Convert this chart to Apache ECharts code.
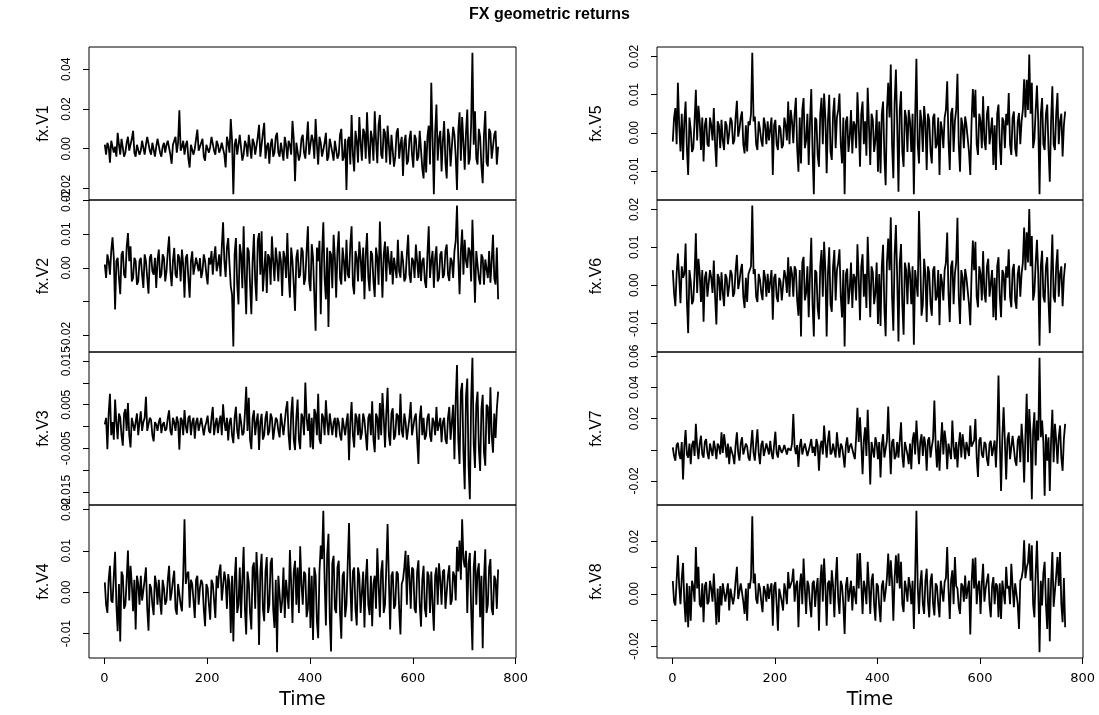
<!DOCTYPE html>
<html><head><meta charset="utf-8">
<script src="https://cdn.jsdelivr.net/npm/echarts@6/dist/echarts.min.js"></script>
<style>html,body{margin:0;padding:0;background:#fff}#c{width:1099px;height:715px}</style>
</head><body><div id="c"></div>
<script>
const chartTitle = 'FX geometric returns';
const xName = 'Time';
const TIME_START = 1;
const TIME_STEP = 2.5;
const N_OBS = 770;

const fxV1 = [2,-3,3,1,-7,4,5,-2,1,-4,8,2,-3,5,4,-4,-2,3,6,-1,0,5,9,-2,-4,2,3,-3,-1,4,5,-3,2,6,7,-1,-3,3,4,-4,1,5,6,-2,-4,1,3,-2,2,4,5,-3,-7.6,2,4,6,-2,3,19.4,-1,1,4,-3,2,4,-5,-9.5,2,3,-3,0,5,9.6,-1,-2,3,5,-4,-6,2,3,-2,1,6,5,-1,-3,4,2,-2,0,3,4,-3,-9.4,6,3,-2,15,4,-23,2,5,-3,-4,7,6,-6,-3,4,2,-4,7,1,-5,5,3,-3,-2,6,12,-4,-3,8,13,-5,1,3,-7.6,2,5,-4,-2,6,8,-2,-4,3,3,-6,6,2,-5,4,2,-3,14,5,-16.4,3,4,-6,-3,5,7,-2,-5,4,13.7,-3,-2,7,4,-5,15,2,-8,6,3,-4,-5,3,8,-6,-4,5,6,-2,-6,4,3,-5,-3,7,10,-6,-4,5,-20.8,4,6,-8,17,-3,-11.5,9,4,-7,16,3,-6,10,8,-5,18.4,2,-7.6,9,5,-6,18.9,4,-7.3,12,17,-3,-5,10,8,-7,11.6,2,-8,7,6,-9,-4,8,10.3,-5,2,6,-13.7,3,7,-8,-6,5,9,-3,-9.5,7,5,-6,-4,9,8,-10,-15,4,-12,6,11.6,-8,33.2,5,-23,8,22.3,-6,5,9,-11.5,4,13.9,-7,-15,10,6,-9,-8,11,7,-4,-20.8,9,18.4,-6,16,3,-10.6,8,19.7,-8,-5,12,48.4,2,18.9,-5,-8,10,6,-9,-17.4,7,19,-7,-9,10,8,-5,-6,7,9,-8,1];
const fxV2 = [1,-3,4,2,-2,5,9,3,-12.3,2,3,-3,-7.8,4,5,-2,-3,6,10.3,2,6.4,-4,-3,3,2,-5,-4,2,3,-2,-5.9,4,2,-3,-7.6,3,4,-1,-2,3,-5.9,2,5.4,-3,-2,4,3,-4,-1,5,9.3,-1,-5.4,2,5.9,-2,-3,4,3,-4,5.4,1,-8.8,3,4,-3,-8.8,2,4.9,-2,-2,3,3,-1,2.9,-3,-1,4,2,-2,-4.9,3,1,5,-2,3,6.4,-1,1,4,-2.5,6,13.5,2,-2.7,6,8.8,1,-5.4,-8,-23.2,4,8.8,-5,-10.8,7,4,-6,12.3,-3,-13.7,6,4.9,-5,-13.7,2,10,-4,-9.8,8,10.3,-2,10.8,-7,-6.9,5,-7.4,4,3,-5,9.3,2,-3.9,6,2,-4,4.9,2,-8.3,5,3,-3,10.3,-2,-8.8,6,2,-5,-12.7,3,5.4,-3,-2,6,4.9,-5,-3,5,12.3,-4,-6.9,7,3,-8,-18.6,6,2,8,-13.7,4,13.5,-3,-9.3,6,-17.5,5,4,-6,9.8,3,-8.8,5,10.8,-3,-4.9,6,2,-4,8.3,-2,-3,7,12.3,-5,-7.8,5,3,-4,7.8,3,-4,6,-9.3,4,10.3,-3,-6.9,5,4,-4,-8.6,6,3,-5,13.7,2,-8.8,4,7.8,-4,6.4,2,-2,5,-4.9,3,3,-3,8.3,-1,-2.9,5,2,-4,-3,4,9.8,-2,-4.4,3,2,-3,6.9,2,-3,5,-3.9,2,3,-4,-5.9,4,12.3,-3,2,5,-5.9,3,6.4,-4,-3,4,4.9,-3,-2,5,6.9,-2,-3.9,3,2,-3,4.9,8,18.4,3,-7.8,5,11.3,-2,8.3,2,0,6,5,-4,14.2,2,-10.3,5,4.9,-3,-4.9,4,3,-5,2.5,3,-3,5,-4.4,2,9.8,-3,-4.9,6,-9.3];
const fxV3 = [0.5,2,-5.2,3,7.5,-2,1,-3,6.2,1,-2.9,3,2,-2,-4.4,3,4,-1,5.4,-2,-4.8,2,2,-1,1,3,-2,1,3.5,-1,1,2,6.8,-1,-1,2,1.5,-2,-3.4,1,0.5,-1,1,2,-1.5,0.5,1,-1,-0.5,2,3.7,-1,-2,2,1,-1,2.3,1,-5.3,2,1.5,-2,3.8,0,-1.5,2,2.5,-2,1,2,-2.8,1,2,-1,-1,2,1.7,-2,0,1,2.5,-1,-1.5,2,4.5,-2,0.5,2,-1.5,1,2.5,-2,5.1,1,-1,2,-3.2,1,2,-2,-3.8,2,4.5,-1,-2.9,3,1,-2,-1.5,3,9.1,-1,6.6,-3,-5.2,2,3.7,-2,1,3,-5.4,1,2.9,-3,-2,2,3.5,-2,-1,3,2,-3,-2.8,2,1.5,-1,-2.5,3,3,-2,1,4,5.8,-2,-5.4,3,6.8,-3,-5.4,2,6.2,-3,-5.2,3,2,-2,10.1,2,-1,3,-4.8,2,-5.2,4,3,-2,7.5,-3,-4,3,2,-2,6,1,-2,3,3.3,-2,1,2,-2.5,2,1,-2,-3.2,2,2,-2,1,3,-7.7,1,5.6,-2,-4.8,3,2,-2,2.9,-3,-1.5,3,1.5,-2,-5.5,2,3,-2,5.8,-3,-5.9,3,2,-3,5.4,-2,7.7,2,-4.8,3,8.9,-2,-4.4,3,4.2,-3,-2,3,2.5,-2,7.5,-1,-2.5,3,1,-3,-3,2,5.6,-2,-1.7,2,3,-3,-8.6,2,4.8,-2,2,-3,-2,2,3,-2,-3.5,2,1,-2,4.5,-1,-1,2,-3.6,1,2,-3,-4,2,4.5,-3,1,5,-7.5,6,14.1,-3,-8.6,8,10,-6,-14.4,7,11,-9,-16.7,6,15.8,-4,-9.5,5,8,-5,-10.2,4,7.3,-6,-9,5,4.5,-4,9,-2,-6,3,-2.6,4,8];
const fxV4 = [2.4,-3,-5,3,6.4,-2,-2.5,4,9.8,-3,-9.4,2,-11.9,5,4,-4,-3,3,10.1,-2,6.4,2,-4.6,3,-9,4,2,-3,4,-2,-2,3,6,-4,-9.3,2,1,-3,-5.5,4,2,-3,3,-2,-5.4,3,1,-3,-2,3,6.4,-2,0,3,5.2,-4,-5.4,2,2,-3,-4.6,4,17.6,2,4.4,5,-3.7,3,2,-2,-6.2,3,4,-3,1,3,2,-4,-8.2,2,1,-3,-6.6,3,2,-2,-6.2,4,1,5,6.7,-2,-2,5,2.8,-4,4.4,2,-9.8,4,-11.9,3,8.5,-5,-3,6,-6.2,3,10.9,-4,-10.2,5,2.4,-5,-9,6,7.2,-4,9.7,3,-12.7,5,9.3,-4,-7,5,8.5,-5,-3,7,8.3,-4,-8.6,3,-14.5,4,4.4,-5,-2,6,-6.2,3,3,-4,10.2,2,-7.4,5,7.6,-3,6,-5,11.1,2,-3,5,4.4,-6,-4,6,-8.6,4,-11.5,6,4,-7,-11.1,5,11.3,8,19.7,3,-8,9,14.1,-6,-14.3,7,8.8,-4,-5,6,7.6,-5,-11.2,4,5,-6,-3,7,16.7,2,-7,5,6,-4,-8,6,4,-5,-5,5,-8.5,3,8,-3,-5.5,4,-8.2,2,4,-4,10.6,2,-6,5,7.7,-5,-3,6,16.5,3,-9,4,5,-4,-3,5,4.5,-4,-10.2,2,3,6,10,-3,9,4,-4,6,5.5,-4,-5,5,7.7,-3,-8.3,3,6.4,-4,-6,5,4,-5,5,-3,-9.3,4,6,-3,7,3,-3,5,5.5,-4,-4,4,6.5,-3,-2,5,4,-2,11,5,12.5,3,17.6,8,6,10,-5,7,9.5,-4,-14,6,10,-3,5,7,-6,4,-13.5,3,10.4,-5,-3,6,8,-4,-5.5,4,3,-4,5.5];
const fxV5 = [-2.3,4,6.5,-3,13.1,2,-4.9,5,-7.1,3,8.2,-4,-11,4,0.8,-5,-4,3,11.3,-2,7.1,3,-4.5,4,-7.5,2,3.9,-3,-3.6,4,2,-2,6.5,-3,-8.9,3,2,-4,3.4,-2,-4.5,3,2,-3,0,4,3,-3,-2,4,8.4,-1,1,4,5.6,-3,-5.4,2,-4.9,3,2,5,21,3,4.3,-3,-4.5,3,1,-2,-3.6,4,2,-3,3,-2,1,4,-11,2,3.4,-3,-4.5,2,1,-4,-3.2,4,2,-2,8.2,-3,6,3,-2.7,5,9.2,-4,-10.2,4,-8,6,9.1,-4,-2,5,-8.4,3,11.5,-5,-16.1,4,3.4,-6,-8.9,5,9.2,-3,10.3,4,-10.6,3,10,-5,-7.1,5,9.2,-4,4,6,10.3,-3,-8,4,-16.1,3,4.3,-5,-1,6,-5.4,3,2,-4,10.6,2,-8.9,5,8.2,-3,3,-6,11.8,2,-8.4,5,3.4,-5,-2,6,-10.2,3,-10.6,5,8.2,-6,-13.7,6,13.1,4,17.9,-3,-11.9,8,16.6,2,-15.4,6,10.9,-5,-8.9,6,4,-5,6,3,-5,5,-16.1,4,19.4,-3,-8,6,3,-5,7,3,-9.7,5,3.4,-5,-8,4,5,-4,-3,4,-11,3,0.8,-4,4,6,13.5,-2,-9.7,5,6.5,-5,3,6,15.5,-3,-10.2,4,2,-4,4.3,2,2,-5,-11,3,11.5,4,11.3,-3,-5.8,5,3,-4,9.6,-2,-4.5,5,7,-3,-3,4,-8.4,2,-9.7,5,7.4,-3,-8.4,4,3,-4,5,2,10.4,-3,-5.8,4,5.6,-4,-6.2,3,5.2,-3,3,6,14,4,13.9,6,20.5,5,13.1,-4,-1.8,6,12.4,3,-16.1,5,9.1,-3,-4.5,5,7.4,-4,-12.8,3,12.2,-3,-4.5,5,10.4,-3,3,5,-6.2,2,5.6];
const fxV6 = [4,-2,-5.5,3,8.4,2,-4.7,5,2,3,11,-4,-12.6,4,1,-5,-4,3,13.7,-2,7,3,-4.4,4,-9.6,2,3.6,-3,-3.5,4,2,-2,6.5,-3,-10.3,3,2,-4,3.4,-2,-5.5,3,2,-3,0,4,3,-3,-2,4,8,-1,1,4,5.6,-3,-6,2,-4.4,3,2.5,5,21,3,4.3,-3,-4.4,3,1.5,-2,-3.9,4,2,-3,3,-2,1,4,-9.1,2,3,-3,-4.4,2,1,-4,-3.5,4,2.2,-2,7.4,-3,5,3,-3,5,4,-4,-8,4,-13.5,6,7.5,-4,-2,5,-8.4,3,12.5,-5,-13.5,4,3.4,-6,-9,5,9.3,-3,11.5,4,-13.5,3,10,-5,-7,5,9.3,-4,4,6,9.5,-3,-8.5,4,-16.1,3,4.4,-5,-1,6,-6,3,2,-4,10.8,2,-9.2,5,8.2,-3,3,-6,12.8,2,-8.4,5,3.4,-5,-2,6,-10.2,3,-10.7,5,10.7,-6,-13.4,6,12.3,4,17.9,-3,-12,8,15.9,2,-14.8,6,10.9,-5,-13,6,4,-5,6,3,-5,5,-15.7,4,4,-3,19.6,6,-8,-5,7,3,-9.7,5,3.4,-5,-8,4,5,-4,-3,4,-10.5,3,0.8,-4,4,6,13.9,-2,-9.7,5,6.5,-5,3,6,17.8,-3,-10.2,4,2,-4,4.3,2,2,-5,-10.5,3,11.8,4,11.5,-3,-5.8,5,3,-4,9,-2,-4.5,5,7,-3,-3,4,-8.4,2,-9.2,5,7.4,-3,-8.4,4,3,-4,5,2,9.5,-3,-5.8,4,5.6,-4,-6.2,3,5.2,-3,3,6,15.2,4,14,6,20.1,5,13,-4,-1.8,6,12,3,-15.9,5,9.1,-3,-4.5,5,7.4,-4,-12.6,3,13.4,-3,-4.5,5,9.5,-3,3,5,-5.5,2,5.8];
const fxV7 = [1.5,-4,-7,3,4.5,-3,-6,5,-19,2,12.7,-3,-5,4,-9.2,3,5.8,-4,16.6,2,-6,4,9,-3,-5,5,6.9,-2,-6,4,3,-4,5.8,1,-6,4,2,-3,11.2,-2,10,3,-5,4,-9.2,2,3,-4,-9.2,3,11.2,-2,-7,4,8,-3,-4,4,2,-5,-7,3,12.7,-2,-7,4,13.1,-2,-9.2,3,5.8,-4,-5,4,3,-3,5.8,-2,-6,3,11.6,-2,-5,3,3.7,-2,0,3,2.6,-3,1,2,-0.6,4,23,2,-2.8,3,-11,2,6.9,-3,1,4,4.7,-4,-5,3,6.9,-2,2,-4,6.9,3,-13.5,2,5.8,-3,15.5,4,-5,6,12.3,-3,-1.7,4,3,-5,11.2,2,-5,4,2,-4,-11.4,3,8,-2,2,4,3.7,-3,-6,8,26.9,5,20.9,4,-15.7,6,14.4,-4,25.6,3,-22.2,5,6,-5,8,4,-6,5,-17.8,3,10,-5,-5,6,27.7,4,-15.7,5,6.9,-6,-4,5,-5,6,17.6,-4,-11.4,5,5.8,-3,-9.2,4,-12.5,6,11.2,-3,18.7,4,-9.2,5,10,-4,8.4,3,-13.5,6,8,-5,2,7,31.6,3,-11.4,6,-13.5,4,17.6,-3,12.3,5,-12.5,4,4,-6,18.7,2,-6,5,-11.4,3,11.2,-5,10,3,-6,5,4,-4,15.5,2,3,6,19.8,-5,-17.4,6,8,-3,-5,5,3.7,-6,-10.3,4,5.8,-4,-5,6,-11.4,8,47.7,6,-26.5,8,27.3,5,-19,7,11.2,-6,-7,9,8,-7,-10.3,6,9,-8,16.6,4,-21,9,35.9,-8,26.2,10,-31.8,12,24.1,-10,18.7,6,59.1,8,18.7,5,-29.5,10,-7,8,-26.5,6,25.6,-8,16.6,6,-9,8,15.5,-5,-13.5,7,16.6];
const fxV8 = [4.9,-3,-4.5,5,14.7,3,-4,6,11.8,-3,-10.9,4,-12.8,3,-10.3,5,2.6,-3,17.9,2,10.3,-4,-5.1,4,-10.9,3,4.5,-4,-3,5,2,-3,7.7,-2,-11.8,2,-10.9,3,-4.5,4,4.5,-3,-3,4,-6.4,2,2,-4,-1,5,10.3,-2,1,4,3.8,-3,-7.7,2,-10.3,4,2,6,29.7,4,7.7,-2,-3.8,4,2,-3,-7,3,1,-3,3.8,-2,2,4,-12.2,3,4.5,-4,-14.1,2,2,-3,-6.4,4,1,-4,8.3,2,1.5,5,9.6,-3,3,5,-12.8,3,7.7,-4,13.5,2,-7.7,5,3,-4,-9,4,5,-5,2,6,-14.1,4,11.2,-3,13.5,3,-12.2,4,5,-4,9,3,-9,5,14.1,-2,-7.7,5,3,-4,-15.4,3,6.4,-3,1,5,-6.4,3,3,-4,15.4,2,15.6,4,-7.7,5,2,-4,12.2,3,-7.7,5,7.7,-4,-10.3,4,3,-5,-10.9,3,5.1,-3,1,6,15.4,3,12.8,5,-10.3,6,14.7,4,15.4,2,12.2,-4,-7,5,2,-3,6.4,3,-4,5,-13.5,6,31.8,3,-7.7,4,9,-4,-7.7,5,9.6,-3,-9,5,7.7,-4,-8.3,4,3,-4,-9,5,1,-3,4.5,6,17.9,2,-9.6,5,9,-4,14.1,3,2,-5,-7.7,4,3,-3,7,-2,2,5,-15.6,4,13.5,2,13.9,-4,3,5,-7.7,4,11.5,-3,2,5,7.7,-4,-9,3,6.4,-4,4,3,-9,4,-9.6,5,5,-4,10.3,2,3,-4,11.5,3,-5.1,4,4,-4,-13.5,5,6,9,20.5,6,10,12,19.2,5,18.6,-4,-9,8,20.3,3,-22.4,5,-4.5,8,12.2,-4,-13.5,6,-18.2,4,16,-5,-5.1,7,14.1,3,16,-4,-10.9,6,-12.8];

// y tick values (units of 0.001) and their printed labels ('' = tick without label)
const ticksV1 = [-20, 0, 20, 40];             const labelsV1 = ['-0.02', '0.00', '0.02', '0.04'];
const ticksV2 = [-20, -10, 0, 10, 20];        const labelsV2 = ['-0.02', '', '0.00', '0.01', '0.02'];
const ticksV3 = [-15, -10, -5, 0, 5, 10, 15]; const labelsV3 = ['-0.015', '', '-0.005', '', '0.005', '', '0.015'];
const ticksV4 = [-10, 0, 10, 20];             const labelsV4 = ['-0.01', '0.00', '0.01', '0.02'];
const ticksV5 = [-10, 0, 10, 20];             const labelsV5 = ['-0.01', '0.00', '0.01', '0.02'];
const ticksV6 = [-10, 0, 10, 20];             const labelsV6 = ['-0.01', '0.00', '0.01', '0.02'];
const ticksV7 = [-20, 0, 20, 40, 60];         const labelsV7 = ['-0.02', '', '0.02', '0.04', '0.06'];
const ticksV8 = [-20, -10, 0, 10, 20];        const labelsV8 = ['-0.02', '', '0.00', '', '0.02'];

const xTicks = [0, 200, 400, 600, 800];
const xTickLabels = ['0', '200', '400', '600', '800'];

// ---------- layout ----------
const panels = [
  { name: 'fx.V1', data: fxV1, ticks: ticksV1, labels: labelsV1 },
  { name: 'fx.V2', data: fxV2, ticks: ticksV2, labels: labelsV2 },
  { name: 'fx.V3', data: fxV3, ticks: ticksV3, labels: labelsV3 },
  { name: 'fx.V4', data: fxV4, ticks: ticksV4, labels: labelsV4 },
  { name: 'fx.V5', data: fxV5, ticks: ticksV5, labels: labelsV5 },
  { name: 'fx.V6', data: fxV6, ticks: ticksV6, labels: labelsV6 },
  { name: 'fx.V7', data: fxV7, ticks: ticksV7, labels: labelsV7 },
  { name: 'fx.V8', data: fxV8, ticks: ticksV8, labels: labelsV8 }
];
const colLeft = [89, 657];
const colWidth = [427, 426];
const nameGaps = [37, 52];
const rowTop = [47, 200, 352, 505];
const rowH = [153, 152, 153, 153];

const xMin = TIME_START - 0.04 * (N_OBS - TIME_START);
const xMax = N_OBS + 0.04 * (N_OBS - TIME_START);

const grid = [], xAxis = [], yAxis = [], series = [];
panels.forEach((p, k) => {
  const col = k < 4 ? 0 : 1, row = k % 4, bottom = row === 3;
  grid.push({ left: colLeft[col], top: rowTop[row], width: colWidth[col], height: rowH[row],
    show: true, borderColor: '#000', borderWidth: 1, backgroundColor: 'transparent' });
  xAxis.push({
    type: 'value', gridIndex: k, min: xMin, max: xMax, position: 'bottom',
    axisLine: { show: false, onZero: false }, splitLine: { show: false },
    axisTick: { show: bottom, customValues: xTicks, length: 6, lineStyle: { color: '#000', width: 1 } },
    axisLabel: { show: bottom, customValues: xTicks, margin: 14, color: '#000', fontSize: 13,
      fontFamily: 'DejaVu Sans', formatter: v => xTickLabels[xTicks.indexOf(Math.round(v))] || '' },
    name: bottom ? xName : '', nameLocation: 'middle', nameGap: 33, nameMoveOverlap: false,
    nameTextStyle: { color: '#000', fontSize: 19, fontFamily: 'DejaVu Sans' }
  });
  const lo = Math.min(...p.data), hi = Math.max(...p.data), pad = 0.04 * (hi - lo);
  const labeled = p.ticks.filter((t, i) => p.labels[i] !== '');
  yAxis.push({
    type: 'value', gridIndex: k, min: lo - pad, max: hi + pad, position: 'left',
    axisLine: { show: false, onZero: false }, splitLine: { show: false },
    axisTick: { show: true, customValues: p.ticks, length: 6, lineStyle: { color: '#000', width: 1 } },
    axisLabel: { customValues: labeled, rotate: 90, margin: 16, color: '#000', fontSize: 12,
      fontFamily: "'Liberation Sans Narrow', 'Liberation Sans', sans-serif",
      formatter: v => p.labels[p.ticks.indexOf(Math.round(v))] || '' },
    name: p.name, nameLocation: 'middle', nameRotate: 90, nameGap: nameGaps[col], nameMoveOverlap: false,
    nameTextStyle: { color: '#000', fontSize: 16, fontFamily: 'Liberation Sans' }
  });
  series.push({
    type: 'line', xAxisIndex: k, yAxisIndex: k,
    data: p.data.map((v, i) => [TIME_START + TIME_STEP * i, v]),
    showSymbol: false, symbol: 'none', silent: true,
    lineStyle: { color: '#000', width: 1.8 }
  });
});

const chart = echarts.init(document.getElementById('c'), null, { renderer: 'canvas' });
chart.setOption({
  animation: false,
  backgroundColor: '#fff',
  title: { text: chartTitle, left: 'center', top: 2,
    textStyle: { fontSize: 16, fontWeight: 'bold', color: '#000', fontFamily: 'Liberation Sans' } },
  grid, xAxis, yAxis, series
});
</script></body></html>
